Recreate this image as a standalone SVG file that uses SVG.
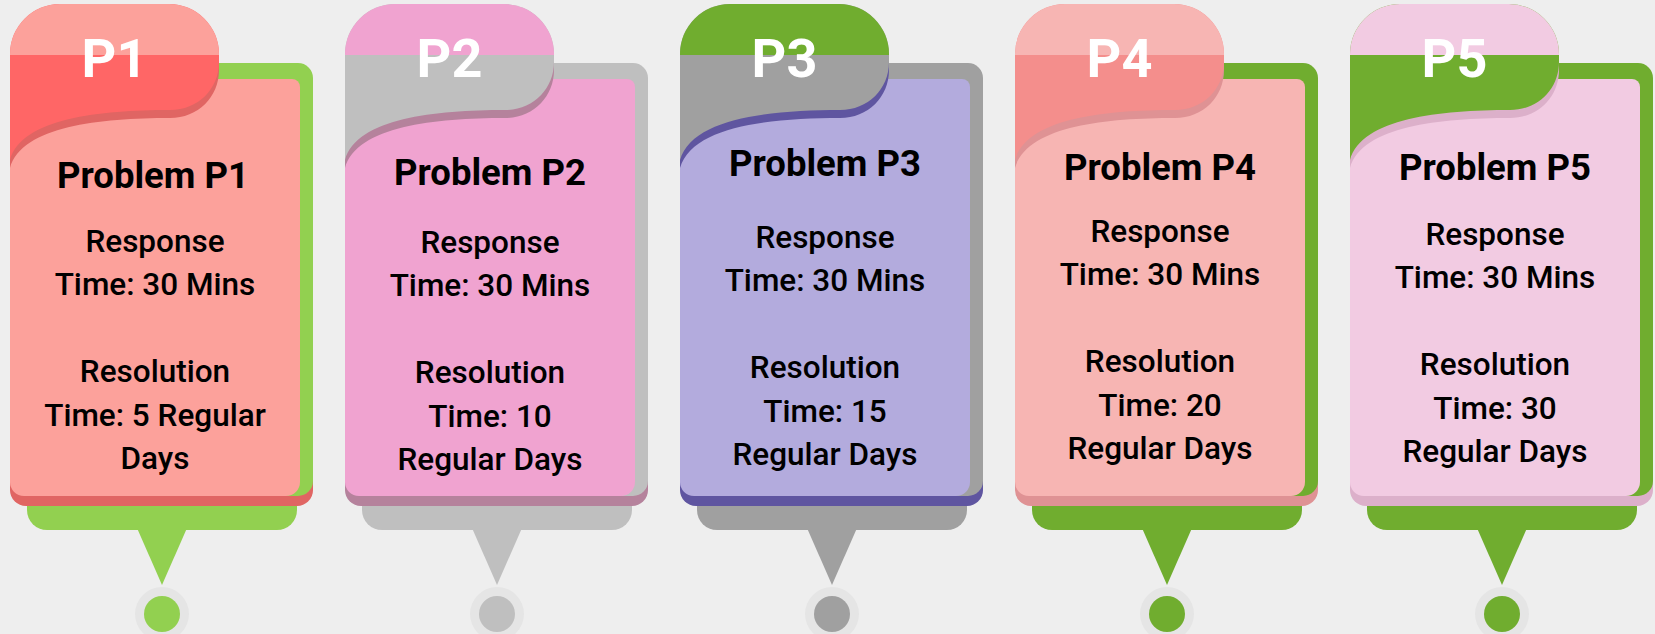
<svg xmlns="http://www.w3.org/2000/svg" xmlns:xlink="http://www.w3.org/1999/xlink" width="1655" height="634" viewBox="0 0 1655 634">
<style>
.pl{font-family:Roboto,"Liberation Sans",sans-serif;font-weight:700;font-size:54px;fill:#fff;text-anchor:middle}
.ttl{font-family:Roboto,"Liberation Sans",sans-serif;font-weight:700;font-size:36.5px;fill:#000;text-anchor:middle}
.bd{font-family:Roboto,"Liberation Sans",sans-serif;font-weight:500;font-size:31.5px;fill:#000;text-anchor:middle}
.ring{fill:#E5E5E5}
.c1 .frame{fill:#92D050}.c1 .body{fill:#FCA19B}.c1 .acc{fill:#FF6666}.c1 .shd{fill:#E06563}.c1 .top{fill:#FCA19B}
.c2 .frame{fill:#BFBFBF}.c2 .body{fill:#F0A3D0}.c2 .acc{fill:#BFBFBF}.c2 .shd{fill:#B5829C}.c2 .top{fill:#F0A3D0}
.c3 .frame{fill:#A0A0A0}.c3 .body{fill:#B3ABDD}.c3 .acc{fill:#A0A0A0}.c3 .shd{fill:#5F55A0}.c3 .top{fill:#70AD2F}
.c4 .frame{fill:#70AD2F}.c4 .body{fill:#F7B5B3}.c4 .acc{fill:#F48E8C}.c4 .shd{fill:#DF9294}.c4 .top{fill:#F7B5B3}
.c5 .frame{fill:#70AD2F}.c5 .body{fill:#F2CBE2}.c5 .acc{fill:#70AD2F}.c5 .shd{fill:#DCB0CA}.c5 .top{fill:#F2CBE2}
</style>
<defs>
<path id="tab" d="M10,160 V54 A50,50 0 0 1 60,4 H169 A50,50 0 0 1 219,54 V62 C219,89 198,110 170,110 C100,110 22,118 10,160 Z"/>
<path id="tabtop" d="M10,55 V54 A50,50 0 0 1 60,4 H169 A50,50 0 0 1 219,54 V55 Z"/>
<path id="bodyshape" d="M10,79 H292 A8,8 0 0 1 300,87 V482 A14,14 0 0 1 286,496 H24 A14,14 0 0 1 10,482 Z"/>
</defs>
<rect width="1655" height="634" fill="#EEEEEE"/>
<g id="connectors"/>
<g id="card-p1" class="c1">
<rect class="frame" x="27" y="470" width="270" height="60" rx="20"/>
<path class="frame" d="M137,528 L187,528 L162,585 Z"/>
<circle class="ring" cx="162" cy="614" r="27"/>
<circle class="frame" cx="162" cy="614" r="18"/>
<rect class="shd" x="10" y="400" width="303" height="106" rx="16"/>
<rect class="frame" x="150" y="63" width="163" height="433" rx="15"/>
<use xlink:href="#bodyshape" class="body"/>
<use xlink:href="#tab" y="8" class="shd"/>
<use xlink:href="#tab" class="acc"/>
<use xlink:href="#tabtop" class="top"/>
<text class="pl" x="114.5" y="77">P1</text>
<text class="ttl" x="153" y="188">Problem P1</text>
<text class="bd"><tspan x="155" y="252">Response</tspan><tspan x="155" y="295.4">Time: 30 Mins</tspan><tspan x="155" y="382.2">Resolution</tspan><tspan x="155" y="425.6">Time: 5 Regular</tspan><tspan x="155" y="469">Days</tspan></text>
</g>
<g id="card-p2" class="c2" transform="translate(335,0)">
<rect class="frame" x="27" y="470" width="270" height="60" rx="20"/>
<path class="frame" d="M137,528 L187,528 L162,585 Z"/>
<circle class="ring" cx="162" cy="614" r="27"/>
<circle class="frame" cx="162" cy="614" r="18"/>
<rect class="shd" x="10" y="400" width="303" height="106" rx="16"/>
<rect class="frame" x="150" y="63" width="163" height="433" rx="15"/>
<use xlink:href="#bodyshape" class="body"/>
<use xlink:href="#tab" y="8" class="shd"/>
<use xlink:href="#tab" class="acc"/>
<use xlink:href="#tabtop" class="top"/>
<text class="pl" x="114.5" y="77">P2</text>
<text class="ttl" x="155" y="185">Problem P2</text>
<text class="bd"><tspan x="155" y="253">Response</tspan><tspan x="155" y="296.4">Time: 30 Mins</tspan><tspan x="155" y="383.2">Resolution</tspan><tspan x="155" y="426.6">Time: 10</tspan><tspan x="155" y="470">Regular Days</tspan></text>
</g>
<g id="card-p3" class="c3" transform="translate(670,0)">
<rect class="frame" x="27" y="470" width="270" height="60" rx="20"/>
<path class="frame" d="M137,528 L187,528 L162,585 Z"/>
<circle class="ring" cx="162" cy="614" r="27"/>
<circle class="frame" cx="162" cy="614" r="18"/>
<rect class="shd" x="10" y="400" width="303" height="106" rx="16"/>
<rect class="frame" x="150" y="63" width="163" height="433" rx="15"/>
<use xlink:href="#bodyshape" class="body"/>
<use xlink:href="#tab" y="8" class="shd"/>
<use xlink:href="#tab" class="acc"/>
<use xlink:href="#tabtop" class="top"/>
<text class="pl" x="114.5" y="77">P3</text>
<text class="ttl" x="155" y="176">Problem P3</text>
<text class="bd"><tspan x="155" y="248">Response</tspan><tspan x="155" y="291.4">Time: 30 Mins</tspan><tspan x="155" y="378.2">Resolution</tspan><tspan x="155" y="421.6">Time: 15</tspan><tspan x="155" y="465">Regular Days</tspan></text>
</g>
<g id="card-p4" class="c4" transform="translate(1005,0)">
<rect class="frame" x="27" y="470" width="270" height="60" rx="20"/>
<path class="frame" d="M137,528 L187,528 L162,585 Z"/>
<circle class="ring" cx="162" cy="614" r="27"/>
<circle class="frame" cx="162" cy="614" r="18"/>
<rect class="shd" x="10" y="400" width="303" height="106" rx="16"/>
<rect class="frame" x="150" y="63" width="163" height="433" rx="15"/>
<use xlink:href="#bodyshape" class="body"/>
<use xlink:href="#tab" y="8" class="shd"/>
<use xlink:href="#tab" class="acc"/>
<use xlink:href="#tabtop" class="top"/>
<text class="pl" x="114.5" y="77">P4</text>
<text class="ttl" x="155" y="180">Problem P4</text>
<text class="bd"><tspan x="155" y="242">Response</tspan><tspan x="155" y="285.4">Time: 30 Mins</tspan><tspan x="155" y="372.2">Resolution</tspan><tspan x="155" y="415.6">Time: 20</tspan><tspan x="155" y="459">Regular Days</tspan></text>
</g>
<g id="card-p5" class="c5" transform="translate(1340,0)">
<rect class="frame" x="27" y="470" width="270" height="60" rx="20"/>
<path class="frame" d="M137,528 L187,528 L162,585 Z"/>
<circle class="ring" cx="162" cy="614" r="27"/>
<circle class="frame" cx="162" cy="614" r="18"/>
<rect class="shd" x="10" y="400" width="303" height="106" rx="16"/>
<rect class="frame" x="150" y="63" width="163" height="433" rx="15"/>
<use xlink:href="#bodyshape" class="body"/>
<use xlink:href="#tab" y="8" class="shd"/>
<use xlink:href="#tab" class="acc"/>
<use xlink:href="#tabtop" class="top"/>
<text class="pl" x="114.5" y="77">P5</text>
<text class="ttl" x="155" y="180">Problem P5</text>
<text class="bd"><tspan x="155" y="245">Response</tspan><tspan x="155" y="288.4">Time: 30 Mins</tspan><tspan x="155" y="375.2">Resolution</tspan><tspan x="155" y="418.6">Time: 30</tspan><tspan x="155" y="462">Regular Days</tspan></text>
</g>
</svg>
